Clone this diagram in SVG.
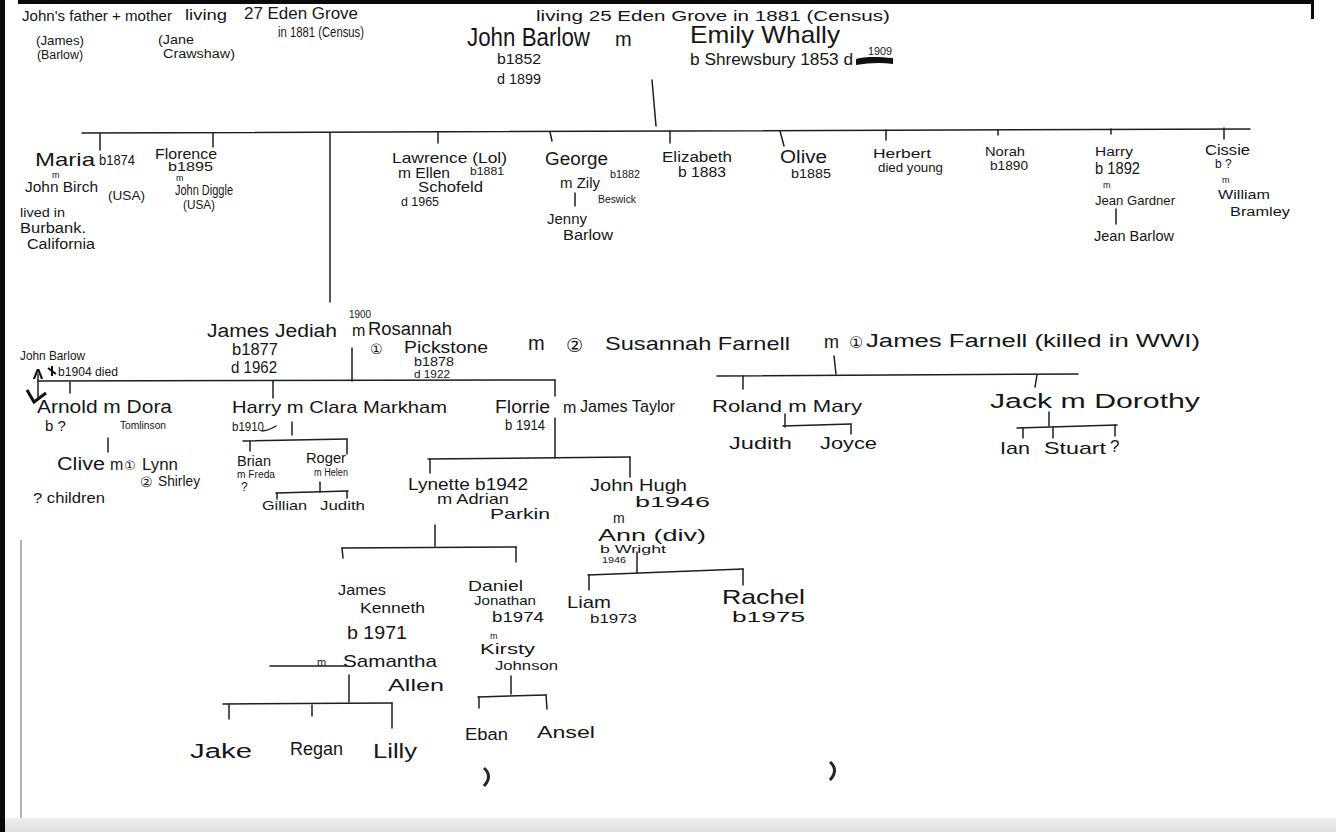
<svg xmlns="http://www.w3.org/2000/svg" width="1336" height="832" viewBox="0 0 1336 832">
<style>
text{font-family:"Liberation Sans","DejaVu Sans",sans-serif;fill:#161616;}
.c{font-family:"DejaVu Sans",sans-serif;}
.ln{stroke:#1e1e1e;stroke-width:1.5;fill:none;stroke-linecap:round;}
</style>
<defs>
<marker id="ah" viewBox="0 0 10 10" refX="5" refY="5" markerWidth="7" markerHeight="7" orient="auto-start-reverse"><path d="M0,1 L10,5 L0,9" fill="none" stroke="#111" stroke-width="2"/></marker>
<linearGradient id="bot" x1="0" y1="0" x2="0" y2="1"><stop offset="0" stop-color="#eeeeee"/><stop offset="1" stop-color="#dedede"/></linearGradient>
</defs>
<rect x="0" y="0" width="1336" height="832" fill="#ffffff"/>
<g id="paper-edges">
<rect x="0" y="0" width="5" height="832" fill="#0a0a0a"/>
<rect x="18" y="0" width="1296" height="4" fill="#0a0a0a"/>
<rect x="1311" y="2" width="3" height="17" fill="#0a0a0a"/>
<line x1="21" y1="540" x2="21" y2="818" stroke="#9a9a9a" stroke-width="1.5"/>
<rect x="5" y="818" width="1331" height="14" fill="url(#bot)"/>
<path d="M484,768 q9,8 0,18" stroke="#222" stroke-width="3" fill="none"/>
<path d="M830,762 q9,8 0,18" stroke="#222" stroke-width="3" fill="none"/>
</g>

<g id="notes">
<text x="22" y="21" font-size="15" textLength="150" lengthAdjust="spacingAndGlyphs">John's father + mother</text>
<text x="185" y="20" font-size="15" textLength="42" lengthAdjust="spacingAndGlyphs">living</text>
<text x="244" y="19" font-size="16" textLength="114" lengthAdjust="spacingAndGlyphs">27 Eden Grove</text>
<text x="278" y="37" font-size="14" textLength="86" lengthAdjust="spacingAndGlyphs">in 1881 (Census)</text>
<text x="36" y="45" font-size="13" textLength="48" lengthAdjust="spacingAndGlyphs">(James)</text>
<text x="37" y="59" font-size="12" textLength="46" lengthAdjust="spacingAndGlyphs">(Barlow)</text>
<text x="158" y="44" font-size="13" textLength="36" lengthAdjust="spacingAndGlyphs">(Jane</text>
<text x="163" y="58" font-size="12" textLength="72" lengthAdjust="spacingAndGlyphs">Crawshaw)</text>
<text x="536" y="21" font-size="15" textLength="354" lengthAdjust="spacingAndGlyphs">living 25 Eden Grove in 1881 (Census)</text>
</g>

<g id="connectors">
<line class="ln" x1="652" y1="80" x2="656" y2="126"/>
<line class="ln" x1="82" y1="133" x2="1250" y2="129"/>
<line class="ln" x1="100" y1="134" x2="100" y2="150"/>
<line class="ln" x1="213" y1="133" x2="213" y2="147"/>
<line class="ln" x1="330" y1="133" x2="330" y2="302"/>
<line class="ln" x1="438" y1="132" x2="438" y2="143"/>
<line class="ln" x1="550" y1="132" x2="552" y2="141"/>
<line class="ln" x1="670" y1="131" x2="670" y2="143"/>
<line class="ln" x1="780" y1="131" x2="784" y2="146"/>
<line class="ln" x1="886" y1="130" x2="886" y2="140"/>
<line class="ln" x1="998" y1="130" x2="998" y2="135"/>
<line class="ln" x1="1111" y1="129" x2="1111" y2="134"/>
<line class="ln" x1="1224" y1="128" x2="1224" y2="139"/>
<line class="ln" x1="575" y1="193" x2="575" y2="206"/>
<line class="ln" x1="1116" y1="209" x2="1116" y2="224"/>
<line class="ln" x1="352" y1="348" x2="352" y2="381"/>
<line class="ln" x1="38" y1="381" x2="555" y2="380"/>
<line class="ln" x1="555" y1="380" x2="555" y2="396"/>
<line class="ln" x1="38" y1="398" x2="38" y2="374" marker-end="url(#ah)"/>
<path d="M27,390 L34,402 L46,393" stroke="#111" stroke-width="3" fill="none"/>
<line class="ln" x1="70" y1="382" x2="70" y2="393"/>
<line class="ln" x1="273" y1="381" x2="273" y2="398"/>
<line class="ln" x1="108" y1="438" x2="108" y2="452"/>
<path class="ln" d="M262,431 Q270,430 276,426"/>
<line class="ln" x1="292" y1="422" x2="292" y2="435"/>
<line class="ln" x1="243" y1="441" x2="347" y2="439"/>
<line class="ln" x1="250" y1="441" x2="250" y2="451"/>
<line class="ln" x1="347" y1="439" x2="347" y2="454"/>
<line class="ln" x1="320" y1="482" x2="320" y2="492"/>
<line class="ln" x1="276" y1="493" x2="348" y2="491"/>
<line class="ln" x1="277" y1="493" x2="277" y2="499"/>
<line class="ln" x1="347" y1="491" x2="347" y2="498"/>
<line class="ln" x1="555" y1="418" x2="555" y2="458"/>
<line class="ln" x1="428" y1="459" x2="630" y2="457"/>
<line class="ln" x1="430" y1="459" x2="430" y2="473"/>
<line class="ln" x1="630" y1="457" x2="630" y2="477"/>
<line class="ln" x1="435" y1="525" x2="435" y2="546"/>
<line class="ln" x1="342" y1="548" x2="516" y2="547"/>
<line class="ln" x1="342" y1="548" x2="343" y2="558"/>
<line class="ln" x1="516" y1="547" x2="516" y2="562"/>
<line class="ln" x1="637" y1="552" x2="637" y2="573"/>
<line class="ln" x1="588" y1="575" x2="743" y2="569"/>
<line class="ln" x1="589" y1="575" x2="589" y2="590"/>
<line class="ln" x1="743" y1="569" x2="743" y2="585"/>
<line class="ln" x1="270" y1="666" x2="347" y2="666"/>
<line class="ln" x1="349" y1="675" x2="349" y2="702"/>
<line class="ln" x1="223" y1="704" x2="392" y2="703"/>
<line class="ln" x1="229" y1="704" x2="229" y2="719"/>
<line class="ln" x1="312" y1="705" x2="312" y2="716"/>
<line class="ln" x1="392" y1="703" x2="392" y2="728"/>
<line class="ln" x1="511" y1="676" x2="511" y2="694"/>
<line class="ln" x1="478" y1="697" x2="546" y2="695"/>
<line class="ln" x1="479" y1="697" x2="479" y2="708"/>
<line class="ln" x1="546" y1="695" x2="547" y2="709"/>
<line class="ln" x1="834" y1="356" x2="836" y2="374"/>
<line class="ln" x1="717" y1="376" x2="1078" y2="374"/>
<line class="ln" x1="743" y1="376" x2="743" y2="389"/>
<line class="ln" x1="1037" y1="375" x2="1035" y2="387"/>
<line class="ln" x1="785" y1="414" x2="785" y2="427"/>
<line class="ln" x1="783" y1="426" x2="851" y2="424"/>
<line class="ln" x1="851" y1="424" x2="851" y2="434"/>
<line class="ln" x1="1049" y1="412" x2="1049" y2="426"/>
<line class="ln" x1="1017" y1="428" x2="1117" y2="425"/>
<line class="ln" x1="1023" y1="428" x2="1023" y2="438"/>
<line class="ln" x1="1053" y1="427" x2="1053" y2="438"/>
<line class="ln" x1="1115" y1="425" x2="1115" y2="436"/>
</g>

<g id="john-barlow">
<text x="467" y="46" font-size="25" textLength="123" lengthAdjust="spacingAndGlyphs">John Barlow</text>
<text x="497" y="64" font-size="15" textLength="44" lengthAdjust="spacingAndGlyphs">b1852</text>
<text x="497" y="84" font-size="15" textLength="44" lengthAdjust="spacingAndGlyphs">d 1899</text>
<text x="615" y="46" font-size="20">m</text>
</g>
<g id="emily-whally">
<text x="690" y="43" font-size="24" textLength="150" lengthAdjust="spacingAndGlyphs">Emily Whally</text>
<text x="690" y="65" font-size="16" textLength="163" lengthAdjust="spacingAndGlyphs">b Shrewsbury 1853 d</text>
<text x="868" y="55" font-size="10" textLength="24" lengthAdjust="spacingAndGlyphs">1909</text>
<path d="M856,59 C866,56 880,57 893,58 L893,64 C880,62 868,63 856,65 Z" fill="#111"/>
</g>

<g id="maria">
<text x="35" y="166" font-size="19" textLength="60" lengthAdjust="spacingAndGlyphs">Maria</text>
<text x="99" y="165" font-size="15" textLength="36" lengthAdjust="spacingAndGlyphs">b1874</text>
<text x="52" y="178" font-size="9">m</text>
<text x="25" y="192" font-size="15" textLength="73" lengthAdjust="spacingAndGlyphs">John Birch</text>
<text x="108" y="200" font-size="13" textLength="37" lengthAdjust="spacingAndGlyphs">(USA)</text>
<text x="20" y="217" font-size="13" textLength="45" lengthAdjust="spacingAndGlyphs">lived in</text>
<text x="20" y="233" font-size="14" textLength="66" lengthAdjust="spacingAndGlyphs">Burbank.</text>
<text x="27" y="249" font-size="14" textLength="68" lengthAdjust="spacingAndGlyphs">California</text>
</g>
<g id="florence">
<text x="155" y="159" font-size="15" textLength="62" lengthAdjust="spacingAndGlyphs">Florence</text>
<text x="168" y="171" font-size="12" textLength="45" lengthAdjust="spacingAndGlyphs">b1895</text>
<text x="176" y="181" font-size="9">m</text>
<text x="175" y="195" font-size="14" textLength="58" lengthAdjust="spacingAndGlyphs">John Diggle</text>
<text x="183" y="209" font-size="12" textLength="32" lengthAdjust="spacingAndGlyphs">(USA)</text>
</g>
<g id="lawrence">
<text x="392" y="163" font-size="15" textLength="115" lengthAdjust="spacingAndGlyphs">Lawrence (Lol)</text>
<text x="470" y="175" font-size="11" textLength="34" lengthAdjust="spacingAndGlyphs">b1881</text>
<text x="398" y="178" font-size="14" textLength="52" lengthAdjust="spacingAndGlyphs">m Ellen</text>
<text x="418" y="192" font-size="15" textLength="65" lengthAdjust="spacingAndGlyphs">Schofeld</text>
<text x="401" y="206" font-size="12" textLength="38" lengthAdjust="spacingAndGlyphs">d 1965</text>
</g>
<g id="george">
<text x="545" y="165" font-size="18" textLength="63" lengthAdjust="spacingAndGlyphs">George</text>
<text x="610" y="178" font-size="11" textLength="30" lengthAdjust="spacingAndGlyphs">b1882</text>
<text x="560" y="188" font-size="15" textLength="40" lengthAdjust="spacingAndGlyphs">m Zily</text>
<text x="598" y="203" font-size="10" textLength="38" lengthAdjust="spacingAndGlyphs">Beswick</text>
<text x="547" y="224" font-size="15" textLength="40" lengthAdjust="spacingAndGlyphs">Jenny</text>
<text x="563" y="240" font-size="15" textLength="50" lengthAdjust="spacingAndGlyphs">Barlow</text>
</g>
<g id="elizabeth">
<text x="662" y="162" font-size="15" textLength="70" lengthAdjust="spacingAndGlyphs">Elizabeth</text>
<text x="678" y="177" font-size="14" textLength="48" lengthAdjust="spacingAndGlyphs">b 1883</text>
</g>
<g id="olive">
<text x="780" y="163" font-size="18" textLength="47" lengthAdjust="spacingAndGlyphs">Olive</text>
<text x="791" y="178" font-size="12" textLength="40" lengthAdjust="spacingAndGlyphs">b1885</text>
</g>
<g id="herbert">
<text x="873" y="158" font-size="13" textLength="58" lengthAdjust="spacingAndGlyphs">Herbert</text>
<text x="878" y="172" font-size="13" textLength="65" lengthAdjust="spacingAndGlyphs">died young</text>
</g>
<g id="norah">
<text x="985" y="156" font-size="13" textLength="40" lengthAdjust="spacingAndGlyphs">Norah</text>
<text x="990" y="170" font-size="12" textLength="38" lengthAdjust="spacingAndGlyphs">b1890</text>
</g>
<g id="harry-1892">
<text x="1095" y="156" font-size="12" textLength="38" lengthAdjust="spacingAndGlyphs">Harry</text>
<text x="1095" y="174" font-size="16" textLength="45" lengthAdjust="spacingAndGlyphs">b 1892</text>
<text x="1103" y="188" font-size="9">m</text>
<text x="1095" y="205" font-size="13" textLength="80" lengthAdjust="spacingAndGlyphs">Jean Gardner</text>
<text x="1094" y="241" font-size="14" textLength="80" lengthAdjust="spacingAndGlyphs">Jean Barlow</text>
</g>
<g id="cissie">
<text x="1205" y="155" font-size="15" textLength="45" lengthAdjust="spacingAndGlyphs">Cissie</text>
<text x="1215" y="168" font-size="12">b ?</text>
<text x="1222" y="183" font-size="9">m</text>
<text x="1218" y="199" font-size="13" textLength="52" lengthAdjust="spacingAndGlyphs">William</text>
<text x="1230" y="216" font-size="12" textLength="60" lengthAdjust="spacingAndGlyphs">Bramley</text>
</g>

<g id="james-jediah">
<text x="349" y="318" font-size="10" textLength="22" lengthAdjust="spacingAndGlyphs">1900</text>
<text x="207" y="337" font-size="18" textLength="130" lengthAdjust="spacingAndGlyphs">James Jediah</text>
<text x="232" y="355" font-size="17" textLength="46" lengthAdjust="spacingAndGlyphs">b1877</text>
<text x="231" y="373" font-size="17" textLength="46" lengthAdjust="spacingAndGlyphs">d 1962</text>
<text x="352" y="336" font-size="16">m</text>
</g>
<g id="rosannah">
<text x="368" y="335" font-size="18" textLength="84" lengthAdjust="spacingAndGlyphs">Rosannah</text>
<text class="c" x="370" y="354" font-size="14">①</text>
<text x="404" y="353" font-size="16" textLength="84" lengthAdjust="spacingAndGlyphs">Pickstone</text>
<text x="414" y="366" font-size="12" textLength="40" lengthAdjust="spacingAndGlyphs">b1878</text>
<text x="414" y="378" font-size="11" textLength="36" lengthAdjust="spacingAndGlyphs">d 1922</text>
</g>
<g id="susannah-farnell">
<text x="528" y="350" font-size="20">m</text>
<text class="c" x="566" y="352" font-size="19">②</text>
<text x="605" y="350" font-size="19" textLength="185" lengthAdjust="spacingAndGlyphs">Susannah Farnell</text>
</g>
<g id="james-farnell">
<text x="824" y="348" font-size="18">m</text>
<text class="c" x="849" y="348" font-size="16">①</text>
<text x="866" y="347" font-size="18" textLength="334" lengthAdjust="spacingAndGlyphs">James Farnell (killed in WWI)</text>
</g>

<g id="john-barlow-1904">
<text x="20" y="360" font-size="13" textLength="65" lengthAdjust="spacingAndGlyphs">John Barlow</text>
<path d="M48,368 L56,374 M52,366 L52,376" stroke="#111" stroke-width="2"/>
<text x="58" y="376" font-size="13" textLength="60" lengthAdjust="spacingAndGlyphs">b1904 died</text>
</g>
<g id="arnold">
<text x="37" y="413" font-size="18" textLength="135" lengthAdjust="spacingAndGlyphs">Arnold m Dora</text>
<text x="45" y="431" font-size="15">b ?</text>
<text x="120" y="429" font-size="10" textLength="46" lengthAdjust="spacingAndGlyphs">Tomlinson</text>
</g>
<g id="clive">
<text x="57" y="470" font-size="18" textLength="48" lengthAdjust="spacingAndGlyphs">Clive</text>
<text x="110" y="470" font-size="16">m</text>
<text class="c" x="124" y="470" font-size="13">①</text>
<text x="142" y="470" font-size="16" textLength="36" lengthAdjust="spacingAndGlyphs">Lynn</text>
<text class="c" x="140" y="487" font-size="14">②</text>
<text x="158" y="486" font-size="14" textLength="42" lengthAdjust="spacingAndGlyphs">Shirley</text>
<text x="33" y="503" font-size="14" textLength="72" lengthAdjust="spacingAndGlyphs">? children</text>
</g>
<g id="harry-1910">
<text x="232" y="413" font-size="17" textLength="215" lengthAdjust="spacingAndGlyphs">Harry m Clara Markham</text>
<text x="232" y="431" font-size="13" textLength="32" lengthAdjust="spacingAndGlyphs">b1910</text>
</g>
<g id="brian">
<text x="237" y="466" font-size="14" textLength="34" lengthAdjust="spacingAndGlyphs">Brian</text>
<text x="237" y="478" font-size="10" textLength="38" lengthAdjust="spacingAndGlyphs">m Freda</text>
<text x="241" y="491" font-size="12">?</text>
</g>
<g id="roger">
<text x="306" y="463" font-size="15" textLength="40" lengthAdjust="spacingAndGlyphs">Roger</text>
<text x="314" y="476" font-size="10" textLength="34" lengthAdjust="spacingAndGlyphs">m Helen</text>
</g>
<g id="gillian"><text x="262" y="510" font-size="13" textLength="45" lengthAdjust="spacingAndGlyphs">Gillian</text></g>
<g id="judith-1"><text x="320" y="510" font-size="13" textLength="45" lengthAdjust="spacingAndGlyphs">Judith</text></g>

<g id="florrie">
<text x="495" y="413" font-size="18" textLength="55" lengthAdjust="spacingAndGlyphs">Florrie</text>
<text x="505" y="430" font-size="14" textLength="40" lengthAdjust="spacingAndGlyphs">b 1914</text>
<text x="563" y="413" font-size="16">m</text>
<text x="580" y="412" font-size="17" textLength="95" lengthAdjust="spacingAndGlyphs">James Taylor</text>
</g>
<g id="lynette">
<text x="408" y="490" font-size="16" textLength="120" lengthAdjust="spacingAndGlyphs">Lynette b1942</text>
<text x="437" y="504" font-size="15" textLength="72" lengthAdjust="spacingAndGlyphs">m Adrian</text>
<text x="490" y="519" font-size="15" textLength="60" lengthAdjust="spacingAndGlyphs">Parkin</text>
</g>
<g id="john-hugh">
<text x="590" y="491" font-size="16" textLength="97" lengthAdjust="spacingAndGlyphs">John Hugh</text>
<text x="635" y="507" font-size="15" textLength="75" lengthAdjust="spacingAndGlyphs">b1946</text>
<text x="613" y="523" font-size="14">m</text>
<text x="598" y="541" font-size="16" textLength="108" lengthAdjust="spacingAndGlyphs">Ann (div)</text>
<text x="600" y="553" font-size="10" textLength="66" lengthAdjust="spacingAndGlyphs">b Wright</text>
<text x="602" y="563" font-size="9" textLength="24" lengthAdjust="spacingAndGlyphs">1946</text>
</g>
<g id="liam">
<text x="567" y="608" font-size="17" textLength="44" lengthAdjust="spacingAndGlyphs">Liam</text>
<text x="590" y="623" font-size="12" textLength="47" lengthAdjust="spacingAndGlyphs">b1973</text>
</g>
<g id="rachel">
<text x="722" y="604" font-size="21" textLength="83" lengthAdjust="spacingAndGlyphs">Rachel</text>
<text x="732" y="622" font-size="14" textLength="73" lengthAdjust="spacingAndGlyphs">b1975</text>
</g>
<g id="james-kenneth">
<text x="338" y="595" font-size="15" textLength="48" lengthAdjust="spacingAndGlyphs">James</text>
<text x="360" y="613" font-size="15" textLength="65" lengthAdjust="spacingAndGlyphs">Kenneth</text>
<text x="347" y="639" font-size="19" textLength="60" lengthAdjust="spacingAndGlyphs">b 1971</text>
<text x="317" y="666" font-size="11">m</text>
</g>
<g id="samantha">
<text x="343" y="667" font-size="17" textLength="94" lengthAdjust="spacingAndGlyphs">Samantha</text>
<text x="388" y="691" font-size="17" textLength="56" lengthAdjust="spacingAndGlyphs">Allen</text>
</g>
<g id="daniel">
<text x="468" y="591" font-size="15" textLength="55" lengthAdjust="spacingAndGlyphs">Daniel</text>
<text x="474" y="605" font-size="13" textLength="62" lengthAdjust="spacingAndGlyphs">Jonathan</text>
<text x="492" y="622" font-size="15" textLength="52" lengthAdjust="spacingAndGlyphs">b1974</text>
<text x="490" y="639" font-size="9">m</text>
</g>
<g id="kirsty">
<text x="480" y="654" font-size="14" textLength="55" lengthAdjust="spacingAndGlyphs">Kirsty</text>
<text x="495" y="670" font-size="13" textLength="63" lengthAdjust="spacingAndGlyphs">Johnson</text>
</g>
<g id="jake"><text x="190" y="758" font-size="20" textLength="62" lengthAdjust="spacingAndGlyphs">Jake</text></g>
<g id="regan"><text x="290" y="755" font-size="19" textLength="53" lengthAdjust="spacingAndGlyphs">Regan</text></g>
<g id="lilly"><text x="373" y="758" font-size="20" textLength="44" lengthAdjust="spacingAndGlyphs">Lilly</text></g>
<g id="eban"><text x="465" y="740" font-size="16" textLength="43" lengthAdjust="spacingAndGlyphs">Eban</text></g>
<g id="ansel"><text x="537" y="738" font-size="17" textLength="58" lengthAdjust="spacingAndGlyphs">Ansel</text></g>

<g id="roland">
<text x="712" y="412" font-size="17" textLength="150" lengthAdjust="spacingAndGlyphs">Roland m Mary</text>
</g>
<g id="judith-2"><text x="729" y="449" font-size="17" textLength="63" lengthAdjust="spacingAndGlyphs">Judith</text></g>
<g id="joyce"><text x="820" y="449" font-size="17" textLength="57" lengthAdjust="spacingAndGlyphs">Joyce</text></g>
<g id="jack">
<text x="990" y="408" font-size="20" textLength="210" lengthAdjust="spacingAndGlyphs">Jack m Dorothy</text>
</g>
<g id="ian"><text x="1000" y="454" font-size="17" textLength="30" lengthAdjust="spacingAndGlyphs">Ian</text></g>
<g id="stuart"><text x="1044" y="454" font-size="17" textLength="62" lengthAdjust="spacingAndGlyphs">Stuart</text></g>
<g id="unknown"><text x="1110" y="452" font-size="17">?</text></g>
</svg>
